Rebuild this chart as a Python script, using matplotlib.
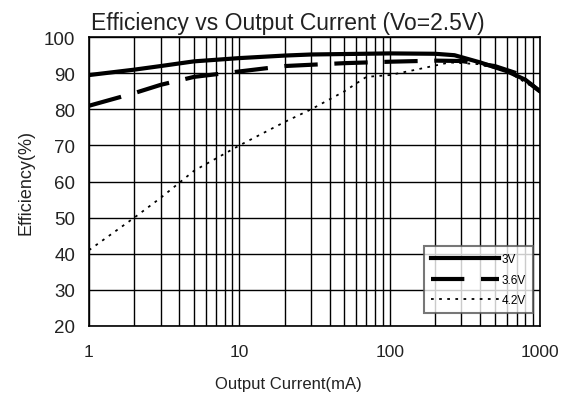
import numpy as np
import matplotlib.pyplot as plt
from matplotlib.ticker import FixedLocator, NullFormatter

plt.rcParams['font.family'] = ['Liberation Sans', 'DejaVu Sans']

# data
cur_3v = [1, 2, 3, 5, 10, 20, 30, 100, 200, 270, 400, 600, 800, 1000]
eff_3v = [89.5, 91, 92, 93.3, 94.2, 94.9, 95.2, 95.5, 95.4, 95.0, 93.0, 90.6, 88.2, 85.0]

cur_36v = [1, 2, 3, 5, 10, 20, 50, 100, 200, 300, 500, 700, 1000]
eff_36v = [81, 84.5, 86.8, 89, 90.5, 92, 92.8, 93.2, 93.5, 93.4, 92.0, 90.0, 85.0]

cur_42v = [1, 2, 3, 5, 10, 20, 30, 50, 70, 100, 150, 250, 400, 600, 1000]
eff_42v = [41, 50, 55.5, 63, 70, 76.5, 80, 85, 89, 89.5, 91, 93, 92.5, 90.6, 85.0]

yticks = [20, 30, 40, 50, 60, 70, 80, 90, 100]
xticks = [1, 10, 100, 1000]

fig = plt.figure(figsize=(5.69, 4.06), dpi=100)
ax = fig.add_axes([0.1564, 0.1946, 0.7926, 0.7114])

ax.plot(cur_3v, eff_3v, color='black', lw=3, label='3V')
ax.plot(cur_36v, eff_36v, color='black', lw=3, dashes=(8, 4), label='3.6V')
ax.plot(cur_42v, eff_42v, color='black', lw=1.3, dashes=(1.5, 3), label='4.2V')

ax.set_xscale('log')
ax.set_xlim(1, 1000)
ax.set_ylim(20, 100)
ax.set_xticks(xticks)
ax.set_xticklabels([str(t) for t in xticks])
minors = [m * d for d in [1, 10, 100] for m in range(2, 10)]
ax.xaxis.set_minor_locator(FixedLocator(minors))
ax.xaxis.set_minor_formatter(NullFormatter())
ax.set_yticks(yticks)
ax.grid(True, which='both', axis='x', color='black', lw=1)
ax.grid(True, which='major', axis='y', color='black', lw=1)
ax.tick_params(which='both', length=0, colors='#222222')
ax.tick_params(axis='x', pad=13, labelsize=12.5)
ax.tick_params(axis='y', pad=10, labelsize=13.5)
for s in ax.spines.values():
    s.set_color('black')
    s.set_linewidth(1.2)

ax.set_title('Efficiency vs Output Current (Vo=2.5V)', fontsize=16.5, color='#222222',
             pad=6, x=0.44)
ax.set_xlabel('Output Current(mA)', fontsize=12, color='#222222', labelpad=12, x=0.443)
ax.set_ylabel('Efficiency(%)', fontsize=13, color='#222222', labelpad=7)

leg = ax.legend(loc='lower right', bbox_to_anchor=(0.984, 0.045), frameon=True,
                fontsize=8.5, fancybox=False, edgecolor='#555555', handlelength=5.8,
                handletextpad=0.2, labelspacing=0.7, borderpad=0.6, borderaxespad=0)
leg.get_frame().set_linewidth(1.5)

fig.savefig('out.png', dpi=100)
